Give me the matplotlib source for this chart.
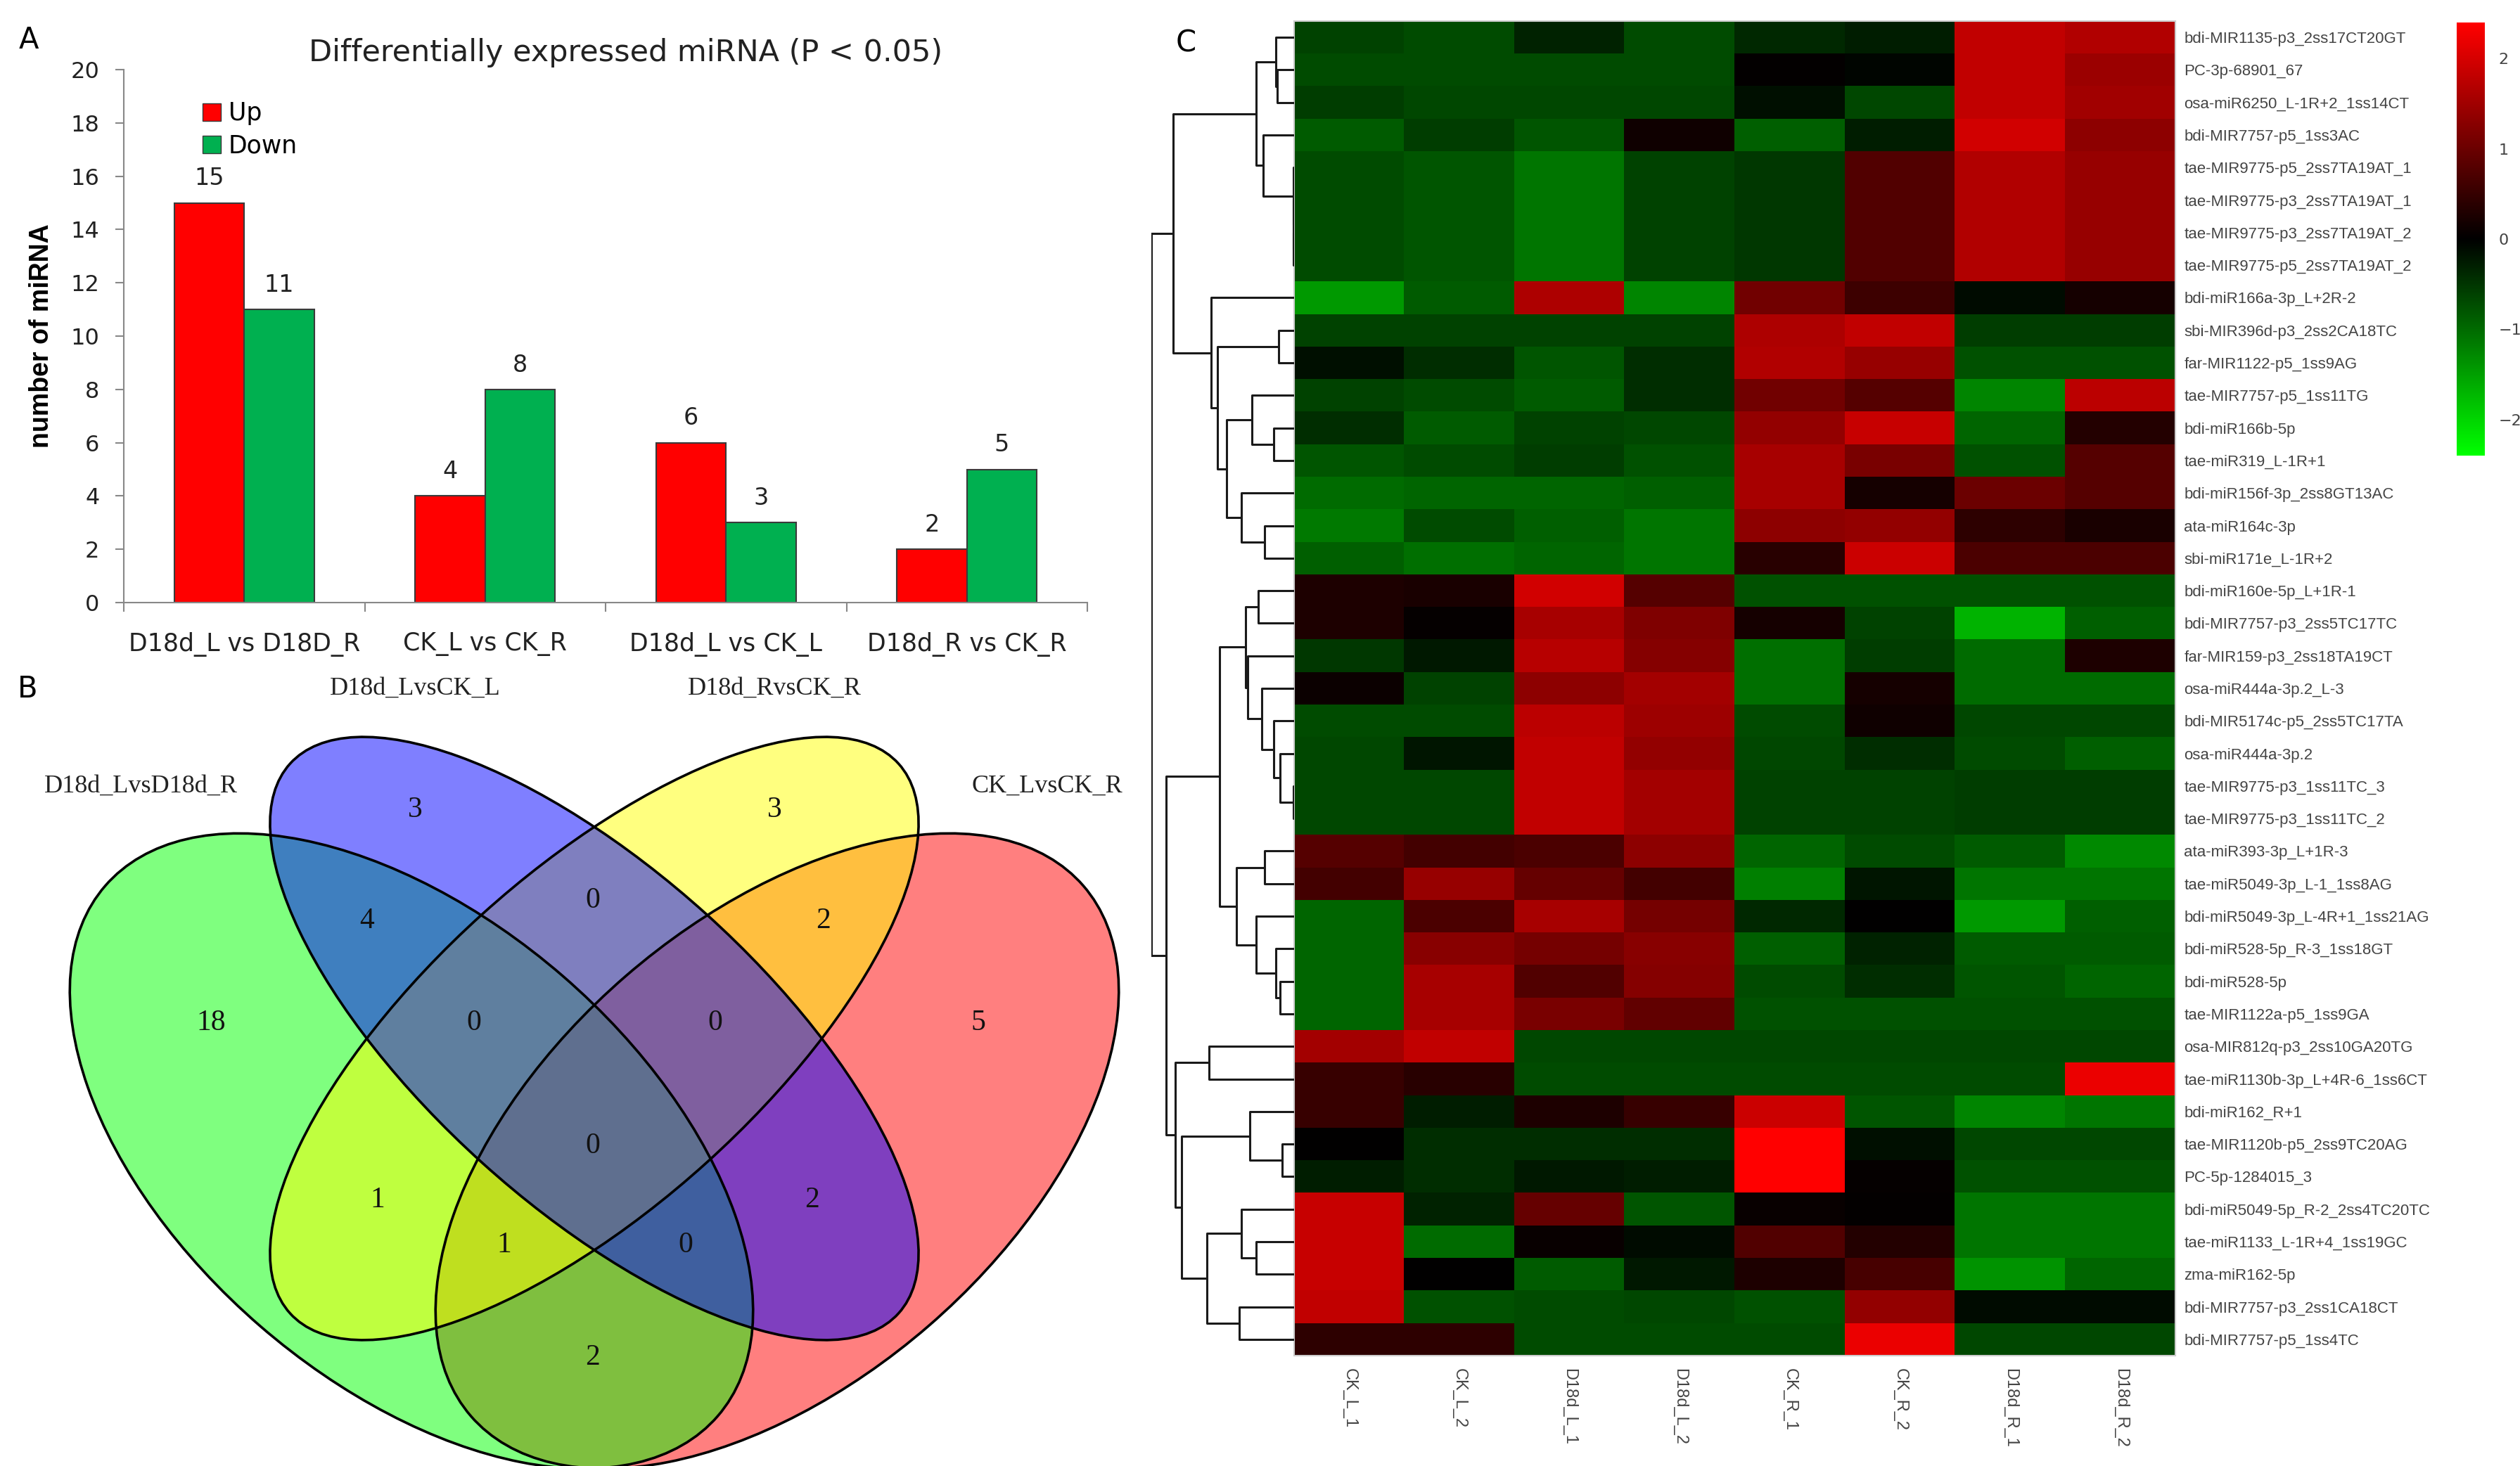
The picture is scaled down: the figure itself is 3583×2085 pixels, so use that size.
import matplotlib
matplotlib.use('Agg')
import matplotlib.pyplot as plt
from matplotlib.patches import Ellipse, Patch
from matplotlib.colors import LinearSegmentedColormap
import numpy as np

W, H = 3583, 2085
DPI = 100

# ---------------- panel A data ----------------
comparisons = ['D18d_L vs D18D_R', 'CK_L vs CK_R', 'D18d_L vs CK_L', 'D18d_R vs CK_R']
up_counts = [15, 4, 6, 2]
down_counts = [11, 8, 3, 5]

# ---------------- panel B data ----------------
venn_sets = ['D18d_LvsD18d_R', 'D18d_LvsCK_L', 'D18d_RvsCK_R', 'CK_LvsCK_R']
# region key: letters of the sets it belongs to (g, b, y, r)
venn_regions = ['g', 'b', 'y', 'r', 'gb', 'by', 'yr', 'gby', 'byr', 'gbyr',
                'gy', 'br', 'gyr', 'gbr', 'gr']
venn_counts = [18, 3, 3, 5, 4, 0, 2, 0, 0, 0, 1, 2, 1, 0, 2]

# ---------------- panel C data ----------------
samples = ['CK_L_1', 'CK_L_2', 'D18d_L_1', 'D18d_L_2',
           'CK_R_1', 'CK_R_2', 'D18d_R_1', 'D18d_R_2']
mirnas = [
    'bdi-MIR1135-p3_2ss17CT20GT', 'PC-3p-68901_67', 'osa-miR6250_L-1R+2_1ss14CT',
    'bdi-MIR7757-p5_1ss3AC', 'tae-MIR9775-p5_2ss7TA19AT_1', 'tae-MIR9775-p3_2ss7TA19AT_1',
    'tae-MIR9775-p3_2ss7TA19AT_2', 'tae-MIR9775-p5_2ss7TA19AT_2', 'bdi-miR166a-3p_L+2R-2',
    'sbi-MIR396d-p3_2ss2CA18TC', 'far-MIR1122-p5_1ss9AG', 'tae-MIR7757-p5_1ss11TG',
    'bdi-miR166b-5p', 'tae-miR319_L-1R+1', 'bdi-miR156f-3p_2ss8GT13AC',
    'ata-miR164c-3p', 'sbi-miR171e_L-1R+2', 'bdi-miR160e-5p_L+1R-1',
    'bdi-MIR7757-p3_2ss5TC17TC', 'far-MIR159-p3_2ss18TA19CT', 'osa-miR444a-3p.2_L-3',
    'bdi-MIR5174c-p5_2ss5TC17TA', 'osa-miR444a-3p.2', 'tae-MIR9775-p3_1ss11TC_3',
    'tae-MIR9775-p3_1ss11TC_2', 'ata-miR393-3p_L+1R-3', 'tae-miR5049-3p_L-1_1ss8AG',
    'bdi-miR5049-3p_L-4R+1_1ss21AG', 'bdi-miR528-5p_R-3_1ss18GT', 'bdi-miR528-5p',
    'tae-MIR1122a-p5_1ss9GA', 'osa-MIR812q-p3_2ss10GA20TG', 'tae-miR1130b-3p_L+4R-6_1ss6CT',
    'bdi-miR162_R+1', 'tae-MIR1120b-p5_2ss9TC20AG', 'PC-5p-1284015_3',
    'bdi-miR5049-5p_R-2_2ss4TC20TC', 'tae-miR1133_L-1R+4_1ss19GC', 'zma-miR162-5p',
    'bdi-MIR7757-p3_2ss1CA18CT', 'bdi-MIR7757-p5_1ss4TC',
]
heat_values = [
    [-0.62, -0.70, -0.33, -0.70, -0.38, -0.28, 1.80, 1.65],
    [-0.70, -0.70, -0.70, -0.70, 0.03, -0.05, 1.80, 1.45],
    [-0.57, -0.66, -0.66, -0.66, -0.14, -0.66, 1.80, 1.50],
    [-0.85, -0.57, -0.80, 0.14, -0.90, -0.28, 1.95, 1.33],
    [-0.70, -0.80, -1.10, -0.62, -0.52, 0.76, 1.65, 1.42],
    [-0.70, -0.80, -1.10, -0.62, -0.52, 0.76, 1.65, 1.42],
    [-0.70, -0.80, -1.10, -0.62, -0.52, 0.76, 1.65, 1.42],
    [-0.70, -0.80, -1.10, -0.62, -0.52, 0.76, 1.65, 1.42],
    [-1.43, -0.85, 1.62, -1.24, 1.05, 0.57, -0.10, 0.20],
    [-0.62, -0.62, -0.62, -0.62, 1.62, 1.80, -0.57, -0.57],
    [-0.14, -0.43, -0.80, -0.43, 1.65, 1.42, -0.76, -0.76],
    [-0.62, -0.70, -0.85, -0.43, 1.05, 0.80, -1.24, 1.76],
    [-0.43, -0.85, -0.62, -0.66, 1.38, 1.86, -0.95, 0.33],
    [-0.80, -0.70, -0.57, -0.76, 1.57, 1.14, -0.76, 0.80],
    [-1.00, -0.95, -0.95, -0.90, 1.57, 0.20, 1.00, 0.80],
    [-1.14, -0.70, -0.90, -1.10, 1.33, 1.38, 0.43, 0.24],
    [-0.90, -1.05, -0.95, -1.10, 0.38, 1.90, 0.70, 0.70],
    [0.28, 0.24, 1.95, 0.80, -0.76, -0.76, -0.76, -0.76],
    [0.28, 0.05, 1.57, 1.19, 0.20, -0.62, -1.67, -0.90],
    [-0.52, -0.24, 1.71, 1.24, -1.05, -0.57, -1.00, 0.28],
    [0.10, -0.62, 1.33, 1.52, -1.05, 0.20, -1.00, -1.00],
    [-0.70, -0.70, 1.76, 1.48, -0.70, 0.14, -0.66, -0.66],
    [-0.66, -0.19, 1.80, 1.38, -0.66, -0.43, -0.70, -0.90],
    [-0.66, -0.66, 1.80, 1.52, -0.62, -0.62, -0.57, -0.57],
    [-0.66, -0.66, 1.80, 1.52, -0.62, -0.62, -0.57, -0.57],
    [0.80, 0.62, 0.70, 1.33, -0.95, -0.70, -0.85, -1.29],
    [0.62, 1.42, 0.95, 0.62, -1.19, -0.19, -1.10, -1.10],
    [-0.95, 0.70, 1.57, 1.10, -0.38, 0.00, -1.43, -0.90],
    [-0.95, 1.29, 1.10, 1.29, -0.90, -0.33, -0.85, -0.85],
    [-0.95, 1.57, 0.76, 1.24, -0.70, -0.43, -0.80, -0.95],
    [-0.95, 1.57, 1.14, 0.90, -0.76, -0.76, -0.76, -0.76],
    [1.52, 1.80, -0.66, -0.66, -0.66, -0.66, -0.66, -0.66],
    [0.52, 0.38, -0.70, -0.70, -0.70, -0.70, -0.70, 2.20],
    [0.52, -0.28, 0.28, 0.52, 1.90, -0.80, -1.24, -1.10],
    [0.00, -0.43, -0.43, -0.43, 2.40, -0.14, -0.66, -0.66],
    [-0.28, -0.43, -0.24, -0.28, 2.40, 0.05, -0.76, -0.76],
    [1.86, -0.33, 0.95, -0.80, 0.08, 0.03, -1.10, -1.10],
    [1.86, -1.00, 0.08, -0.10, 0.76, 0.33, -1.10, -1.10],
    [1.86, 0.00, -0.85, -0.24, 0.28, 0.66, -1.38, -0.95],
    [1.80, -0.76, -0.70, -0.66, -0.76, 1.38, -0.11, -0.11],
    [0.43, 0.43, -0.70, -0.70, -0.70, 2.20, -0.66, -0.66],
]
# row dendrogram: (left node, right node, merge height); leaves 0..40, new nodes 41..
row_merges = [
    (1, 2, 70), (0, 41, 77), (6, 7, 2), (5, 43, 3), (4, 44, 4), (3, 45, 130),
    (42, 46, 160), (9, 10, 65), (12, 13, 87), (11, 49, 178), (15, 16, 125),
    (14, 51, 223), (50, 52, 285), (48, 53, 325), (8, 54, 350), (47, 55, 510),
    (17, 18, 152), (23, 24, 3), (22, 58, 60), (21, 59, 87), (20, 60, 137),
    (19, 61, 197), (57, 62, 205), (25, 26, 125), (29, 30, 60), (28, 65, 77),
    (27, 66, 160), (64, 67, 245), (63, 68, 315), (31, 32, 360), (34, 35, 50),
    (33, 71, 187), (37, 38, 160), (36, 73, 223), (39, 40, 232), (74, 75, 367),
    (72, 76, 475), (70, 77, 503), (69, 78, 540), (56, 79, 603),
]

NARROW = ['Liberation Sans Narrow', 'DejaVu Sans']
SERIF = ['Liberation Serif', 'DejaVu Serif']
SANS = ['Liberation Sans', 'DejaVu Sans']


def frac(x0, y0, x1, y1):
    # pixel box (top-left origin) -> figure fraction rect
    return [x0 / W, 1 - y1 / H, (x1 - x0) / W, (y1 - y0) / H]


fig = plt.figure(figsize=(W / DPI, H / DPI), dpi=DPI)

# ================= panel A: bar chart =================
ax = fig.add_axes(frac(176, 99, 1546, 857))
x = np.arange(len(comparisons))
bw = 0.29
bars_up = ax.bar(x - bw / 2, up_counts, bw, color='#ff0000', edgecolor='#3a3a3a', linewidth=1.5)
bars_dn = ax.bar(x + bw / 2, down_counts, bw, color='#00b050', edgecolor='#3a3a3a', linewidth=1.5)
for rects in (bars_up, bars_dn):
    for r in rects:
        ax.annotate(str(int(r.get_height())), (r.get_x() + r.get_width() / 2, r.get_height()),
                    xytext=(0, 25), textcoords='offset points', ha='center', va='center',
                    fontsize=24, family=NARROW, color='#222222')
ax.set_xlim(-0.5, len(comparisons) - 0.5)
ax.set_ylim(0, 20)
ax.set_yticks(range(0, 21, 2))
ax.set_xticks(x)
ax.set_xticklabels(comparisons, family=NARROW, fontsize=25, color='#222222')
ax.set_xticks(np.arange(-0.5, len(comparisons), 1), minor=True)
ax.tick_params(axis='x', which='major', length=0, pad=30)
ax.tick_params(axis='x', which='minor', length=9, width=1.5, color='#888888')
ax.tick_params(axis='y', length=9, width=1.5, color='#888888', pad=16, labelsize=23)
for lab in ax.get_yticklabels():
    lab.set_family(NARROW)
    lab.set_color('#222222')
for s in ['top', 'right']:
    ax.spines[s].set_visible(False)
for s in ['left', 'bottom']:
    ax.spines[s].set_color('#888888')
    ax.spines[s].set_linewidth(1.5)
ax.set_ylabel('number of miRNA', fontsize=27, fontweight='bold', family=SANS)
ax.yaxis.set_label_coords(-0.072, 0.5)
ax.text(0.521, 1.032, 'Differentially expressed miRNA (P < 0.05)', transform=ax.transAxes,
        ha='center', va='center', fontsize=31, family=NARROW, color='#222222')
ax.legend([Patch(facecolor='#ff0000', edgecolor='#3a3a3a'),
           Patch(facecolor='#00b050', edgecolor='#3a3a3a')], ['Up', 'Down'],
          loc='upper left', bbox_to_anchor=(0.082, 0.94), frameon=False,
          prop={'family': NARROW, 'size': 25}, handlelength=0.75, handleheight=0.75,
          handletextpad=0.3, labelspacing=0.35, borderpad=0, borderaxespad=0)

# ================= panel B: venn =================
av = fig.add_axes(frac(0, 950, 1650, 2085))
av.set_xlim(0, 1650)
av.set_ylim(2085, 950)
av.axis('off')
# fills are painted red, green, yellow, blue (gives the reference's overlap tints)
shapes = [
    ((1105, 1637), 576, 329, -40.9, '#ff0000'),
    ((585, 1637), 576, 329, 40.9, '#00ff00'),
    ((845, 1477), 583, 238, -42.1, '#ffff00'),
    ((845, 1477), 583, 238, 42.1, '#0000ff'),
]
for (c, a, b, ang, col) in shapes:
    av.add_patch(Ellipse(c, 2 * a, 2 * b, angle=ang, facecolor=col, alpha=0.5, edgecolor='none'))
for (c, a, b, ang, col) in shapes:
    av.add_patch(Ellipse(c, 2 * a, 2 * b, angle=ang, fill=False, edgecolor='black', linewidth=2.6))

region_xy = {
    'g': (300, 1455), 'b': (590, 1152), 'y': (1101, 1152), 'r': (1391, 1455),
    'gb': (522, 1310), 'by': (843, 1281), 'yr': (1170, 1310), 'gby': (674, 1455),
    'byr': (1017, 1455), 'gbyr': (843, 1630), 'gy': (537, 1707), 'br': (1154, 1707),
    'gyr': (717, 1771), 'gbr': (975, 1771), 'gr': (843, 1931),
}
for key, cnt in zip(venn_regions, venn_counts):
    px, py = region_xy[key]
    av.text(px, py, str(cnt), ha='center', va='center', fontsize=30, family=SERIF, color='#111111')

label_xy = [(200, 1118), (590, 979), (1101, 979), (1489, 1118)]
for name, (px, py) in zip(venn_sets, label_xy):
    av.text(px, py, name, ha='center', va='center', fontsize=26, family=SERIF, color='#222222')

# ================= panel C: heatmap =================
cmap = LinearSegmentedColormap.from_list('gkr', ['#00ff00', '#000000', '#ff0000'])
ah = fig.add_axes(frac(1840, 30, 3093, 1928))
im = ah.imshow(np.array(heat_values), cmap=cmap, vmin=-2.4, vmax=2.4,
               aspect='auto', interpolation='nearest')
ah.yaxis.tick_right()
ah.set_yticks(range(len(mirnas)))
ah.set_yticklabels(mirnas, family=SANS, fontsize=16, color='#444444')
ah.set_xticks(range(len(samples)))
ah.set_xticklabels(samples, rotation=270, family=SANS, fontsize=17, color='#444444',
                   ha='center', va='top')
ah.tick_params(axis='both', length=0)
ah.tick_params(axis='y', pad=9)
ah.tick_params(axis='x', pad=13)
for s in ah.spines.values():
    s.set_color('#cccccc')
    s.set_linewidth(1.5)

# dendrogram
ad = fig.add_axes(frac(1637, 30, 1840, 1928))
n_leaf = len(mirnas)
pos = {i: float(i) for i in range(n_leaf)}
hgt = {i: 0.0 for i in range(n_leaf)}
for k, (a, b, hh) in enumerate(row_merges):
    node = n_leaf + k
    ad.plot([hgt[a], hh, hh, hgt[b]], [pos[a], pos[a], pos[b], pos[b]],
            color='#1a1a1a', linewidth=2.2, solid_capstyle='butt')
    pos[node] = (pos[a] + pos[b]) / 2
    hgt[node] = hh
ad.set_xlim(max(m[2] for m in row_merges), 0)
ad.set_ylim(n_leaf - 0.5, -0.5)
ad.axis('off')

# colour key
ac = fig.add_axes(frac(3493, 32, 3533, 648))
cb = fig.colorbar(im, cax=ac, ticks=[-2, -1, 0, 1, 2])
cb.outline.set_visible(False)
ac.tick_params(length=0, pad=14, labelsize=16, labelcolor='#444444')

# panel letters
for letter, (px, py) in zip('ABC', [(41, 57), (39, 980), (1686, 62)]):
    fig.text(px / W, 1 - py / H, letter, ha='center', va='center', fontsize=30, family=NARROW)

fig.savefig('out.png', dpi=DPI)
